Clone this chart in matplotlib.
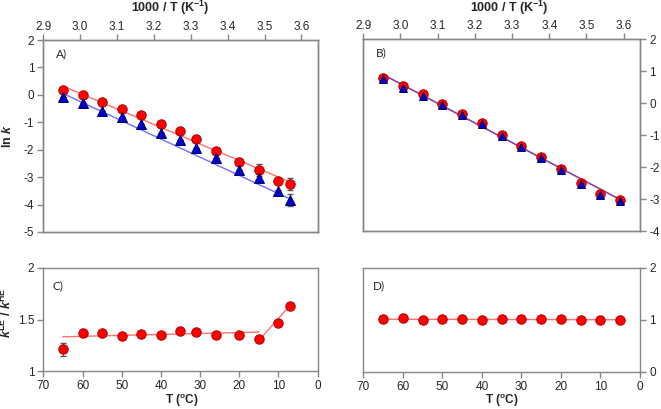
import matplotlib
matplotlib.use("Agg")
import matplotlib.pyplot as plt
import numpy as np

plt.rcParams['font.family'] = ['Liberation Sans', 'DejaVu Sans']
plt.rcParams['axes.unicode_minus'] = False
plt.rcParams['mathtext.fontset'] = 'custom'
plt.rcParams['mathtext.rm'] = 'Liberation Sans'
plt.rcParams['mathtext.it'] = 'Liberation Sans:italic'
plt.rcParams['mathtext.bf'] = 'Liberation Sans:bold'
plt.rcParams['mathtext.bfit'] = 'Liberation Sans:bold:italic'

# ---- data ----
T_A = [65, 60, 55, 50, 45, 40, 35, 31, 26, 20, 15, 10, 7]
lnk_A_red = [0.16, 0.00, -0.27, -0.51, -0.75, -1.08, -1.32, -1.60, -2.03, -2.45, -2.75, -3.14, -3.26]
lnk_A_red_err = [0, 0, 0, 0, 0, 0, 0, 0, 0, 0, 0.22, 0.05, 0.22]
lnk_A_blue = [-0.06, -0.31, -0.59, -0.82, -1.07, -1.38, -1.64, -1.95, -2.31, -2.74, -3.04, -3.52, -3.82]
lnk_A_blue_err = [0, 0, 0, 0, 0, 0, 0, 0, 0, 0, 0.15, 0.05, 0.22]
fit_A_T = [65, 7]
fit_A_red = [0.32, -3.18]
fit_A_blue = [0.05, -3.80]

T_B = [65, 60, 55, 50, 45, 40, 35, 30, 25, 20, 15, 10, 5]
lnk_B_red = [0.79, 0.53, 0.27, -0.02, -0.33, -0.62, -1.01, -1.34, -1.70, -2.07, -2.49, -2.84, -3.03]
lnk_B_blue = [0.74, 0.48, 0.23, -0.05, -0.36, -0.65, -1.04, -1.37, -1.73, -2.10, -2.52, -2.86, -3.05]
fit_B_T = [65, 5]
fit_B = [0.89, -3.02]

T_C = T_A
ratio_C = [1.21, 1.365, 1.365, 1.34, 1.355, 1.35, 1.39, 1.38, 1.35, 1.35, 1.31, 1.47, 1.63]
ratio_C_err = [0.065, 0, 0, 0, 0, 0, 0, 0, 0, 0, 0, 0, 0]
fit_C1_T = [65, 15]
fit_C1 = [1.332, 1.378]
fit_C2_T = [14.5, 7]
fit_C2 = [1.318, 1.64]

T_D = T_B
ratio_D = [1.02, 1.03, 0.99, 1.01, 1.01, 0.99, 1.02, 1.01, 1.01, 1.01, 0.99, 0.99, 0.99]
fit_D = [1.01, 1.00]

top_ticks = [2.9, 3.0, 3.1, 3.2, 3.3, 3.4, 3.5, 3.6]

# ---- style ----
SPINE = '#868686'
TXT = '#262626'
RED_F, RED_E = '#FF0000', '#B00000'
BLUE_F, BLUE_E = '#0000CC', '#00006A'
RED_L, BLUE_L, PURP_L = '#FF7070', '#7070FF', '#8A3FB0'
FS = 8.5
MS = 6.8

W, H = 661, 409
fig = plt.figure(figsize=(W / 100, H / 100), dpi=100)

def rect(x0, y0, x1, y1):
    return [x0 / W, 1 - y1 / H, (x1 - x0) / W, (y1 - y0) / H]

axA = fig.add_axes(rect(43.3, 40, 317.7, 232))
axB = fig.add_axes(rect(363.3, 39, 640, 231))
axC = fig.add_axes(rect(43.3, 268, 317.7, 371))
axD = fig.add_axes(rect(363.3, 268, 640, 371.5))

def style(ax):
    for s in ax.spines.values():
        s.set_color(SPINE)
        s.set_linewidth(1.0)
    ax.tick_params(direction='out', length=4, width=1, color=SPINE,
                   labelsize=FS, labelcolor=TXT, pad=2.5)

for ax in (axA, axB, axC, axD):
    style(ax)
    ax.set_xlim(70, 0)

top_title = r'1000 / T (K$^{\mathbf{-1}}$)'
bot_title = r'T ($^{\mathbf{o}}$C)'

# Panel A
axA.plot(fit_A_T, fit_A_red, color=RED_L, lw=1.0, zorder=2)
axA.plot(fit_A_T, fit_A_blue, color=BLUE_L, lw=1.0, zorder=2)
axA.errorbar(T_A, lnk_A_red, yerr=lnk_A_red_err, fmt='none', ecolor='#555555',
             elinewidth=0.8, capsize=2.5, zorder=3)
axA.errorbar(T_A, lnk_A_blue, yerr=lnk_A_blue_err, fmt='none', ecolor='#555555',
             elinewidth=0.8, capsize=2.5, zorder=3)
axA.plot(T_A, lnk_A_red, 'o', ms=MS, mfc=RED_F, mec=RED_E, mew=0.7, zorder=4)
axA.plot(T_A, lnk_A_blue, '^', ms=MS, mfc=BLUE_F, mec=BLUE_E, mew=0.7, zorder=5)
axA.set_ylim(-5, 2)
axA.set_yticks(range(-5, 3))
axA.set_xticks([])
axA.set_ylabel(r'$\mathbf{ln}\ \mathbfit{k}$', fontsize=9, color=TXT)
axA.yaxis.set_label_coords(-0.105, 0.5)
axA.text(0.045, 0.93, 'A)', transform=axA.transAxes, fontsize=8.5,
         family='Lato', color=TXT, va='center')
tA = axA.twiny()
style(tA)
tA.tick_params(axis='x', pad=1)
tA.set_xlim(2.9, 3.644)
tA.set_xticks(top_ticks)
tA.set_xticklabels([f'{v:.1f}' for v in top_ticks])
fig.text(170 / W, 1 - 8 / H, top_title, fontsize=9, fontweight='bold',
         color=TXT, ha='center', va='center')

# Panel B
axB.plot(fit_B_T, fit_B, color=PURP_L, lw=1.2, zorder=2)
axB.plot(T_B, lnk_B_red, 'o', ms=MS, mfc=RED_F, mec=RED_E, mew=0.7, zorder=4)
axB.plot(T_B, lnk_B_blue, '^', ms=MS - 0.5, mfc=BLUE_F, mec=BLUE_E, mew=0.7, zorder=5)
axB.set_ylim(-4, 2)
axB.set_yticks(range(-4, 3))
axB.set_xticks([])
axB.yaxis.tick_right()
axB.text(0.045, 0.93, 'B)', transform=axB.transAxes, fontsize=8.5,
         family='Lato', color=TXT, va='center')
tB = axB.twiny()
style(tB)
tB.tick_params(axis='x', pad=1)
tB.set_xlim(2.9, 3.644)
tB.set_xticks(top_ticks)
tB.set_xticklabels([f'{v:.1f}' for v in top_ticks])
fig.text(509 / W, 1 - 8 / H, top_title, fontsize=9, fontweight='bold',
         color=TXT, ha='center', va='center')

# Panel C
axC.plot(fit_C1_T, fit_C1, color=RED_L, lw=1.0, zorder=2)
axC.plot(fit_C2_T, fit_C2, color=RED_L, lw=1.0, zorder=2)
axC.errorbar(T_C, ratio_C, yerr=ratio_C_err, fmt='none', ecolor='#555555',
             elinewidth=0.8, capsize=2.5, zorder=3)
axC.plot(T_C, ratio_C, 'o', ms=MS, mfc=RED_F, mec=RED_E, mew=0.7, zorder=4)
axC.set_ylim(1, 2)
axC.set_yticks([1, 1.5, 2])
axC.set_yticklabels(['1', '1.5', '2'])
axC.set_xticks(range(70, -1, -10))
axC.tick_params(axis='x', pad=2.5)
axC.set_ylabel(r'$\mathbfit{k}^{\mathbf{LE}}\mathbf{\ /\ }\mathbfit{k}^{\mathbf{HE}}$',
               fontsize=9, color=TXT)
axC.yaxis.set_label_coords(-0.105, 0.56)
fig.text(182 / W, 1 - 400.5 / H, bot_title, fontsize=8.5, fontweight='bold',
         color=TXT, ha='center', va='center')
axC.text(0.035, 0.83, 'C)', transform=axC.transAxes, fontsize=8.5,
         family='Lato', color=TXT, va='center')

# Panel D
axD.plot(fit_B_T, fit_D, color=RED_L, lw=1.0, zorder=2)
axD.plot(T_D, ratio_D, 'o', ms=MS, mfc=RED_F, mec=RED_E, mew=0.7, zorder=4)
axD.set_ylim(0, 2)
axD.set_yticks([0, 1, 2])
axD.set_xticks(range(70, -1, -10))
axD.tick_params(axis='x', pad=2.5)
axD.yaxis.tick_right()
fig.text(502 / W, 1 - 400.5 / H, bot_title, fontsize=8.5, fontweight='bold',
         color=TXT, ha='center', va='center')
axD.text(0.035, 0.83, 'D)', transform=axD.transAxes, fontsize=8.5,
         family='Lato', color=TXT, va='center')

fig.savefig('out.png', dpi=100)
